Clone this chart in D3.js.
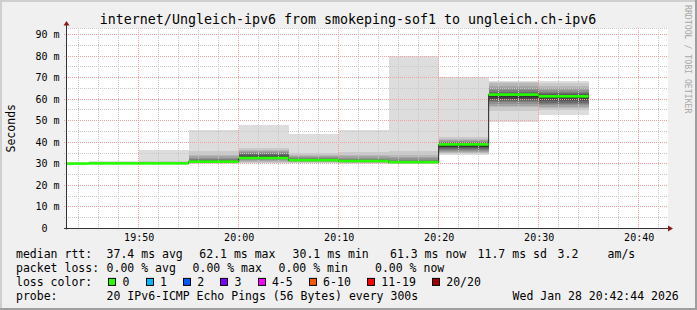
<!DOCTYPE html>
<html>
<head>
<meta charset="utf-8">
<script src="https://cdn.jsdelivr.net/npm/d3@7"></script>
<style>
    body { margin: 0; background: #f0f0f0; }
    svg { display: block; }
    text { font-family: "DejaVu Sans Mono", monospace; fill: #000; }
</style>
</head>
<body>
<div id="wrapper"></div>
<script>
// 5 minute steps, labelled by their end time
const stepEnds = ["19:45", "19:50", "19:55", "20:00", "20:05", "20:10", "20:15", "20:20", "20:25", "20:30", "20:35"]
const medianRtt = [30.1, 30.2, 30.2, 31.0, 32.7, 31.7, 31.3, 30.8, 39.0, 62.1, 61.3]
// 20 sorted pings per step (ms)
const pings = [
    [29.9, 29.95, 30.0, 30.0, 30.0, 30.05, 30.05, 30.1, 30.1, 30.1, 30.1, 30.15, 30.2, 30.2, 30.25, 30.3, 30.4, 30.5, 30.6, 30.8],
    [29.9, 30.0, 30.0, 30.05, 30.1, 30.1, 30.15, 30.15, 30.2, 30.2, 30.2, 30.25, 30.3, 30.3, 30.4, 30.5, 30.6, 30.8, 31.0, 31.3],
    [29.9, 30.0, 30.0, 30.1, 30.1, 30.1, 30.15, 30.15, 30.2, 30.2, 30.2, 30.25, 30.3, 30.3, 30.4, 30.5, 30.7, 31.0, 31.5, 36.4],
    [30.0, 30.2, 30.4, 30.5, 30.6, 30.7, 30.7, 30.8, 30.8, 30.9, 31.0, 31.2, 31.5, 31.8, 32.2, 32.8, 33.5, 34.2, 36.0, 45.7],
    [30.2, 30.6, 31.0, 31.4, 31.8, 32.1, 32.3, 32.5, 32.6, 32.7, 32.8, 33.6, 34.0, 34.5, 35.0, 35.5, 36.0, 36.6, 37.2, 48.0],
    [30.2, 30.5, 30.8, 31.0, 31.2, 31.3, 31.4, 31.5, 31.6, 31.7, 31.8, 31.9, 32.1, 32.4, 32.7, 33.0, 33.4, 33.9, 34.9, 43.8],
    [30.0, 30.3, 30.6, 30.8, 30.9, 31.0, 31.1, 31.2, 31.2, 31.3, 31.4, 31.5, 31.7, 32.0, 32.4, 32.9, 33.4, 34.2, 35.6, 45.7],
    [29.8, 30.1, 30.3, 30.4, 30.5, 30.6, 30.6, 30.7, 30.7, 30.8, 30.9, 31.0, 31.2, 31.5, 31.9, 32.5, 33.3, 34.2, 36.0, 79.8],
    [34.2, 34.8, 35.2, 35.6, 36.0, 36.4, 36.8, 37.2, 37.6, 38.0, 39.0, 39.3, 39.6, 39.9, 40.2, 40.6, 41.0, 41.5, 42.6, 70.2],
    [49.6, 54.7, 56.3, 57.0, 57.8, 58.5, 59.0, 59.5, 60.2, 60.8, 62.2, 62.6, 63.0, 63.5, 64.2, 65.1, 66.2, 67.4, 68.0, 68.4],
    [52.7, 55.0, 55.8, 56.5, 57.2, 57.8, 58.4, 59.0, 59.6, 60.4, 61.5, 62.0, 62.6, 63.0, 63.5, 64.3, 65.1, 66.2, 67.7, 68.5],
]
const yTicks = [0, 10, 20, 30, 40, 50, 60, 70, 80, 90]
const yTickLabels = ["0", "10 m", "20 m", "30 m", "40 m", "50 m", "60 m", "70 m", "80 m", "90 m"]
const xTicks = ["19:50", "20:00", "20:10", "20:20", "20:30", "20:40"]
const lossLabels = ["0", "1", "2", "3", "4-5", "6-10", "11-19", "20/20"]
const lossColors = ["#26ff00", "#00b8ff", "#0059ff", "#7e00ff", "#ff00ff", "#ff5500", "#ff0000", "#a10000"]

const title = "internet/Ungleich-ipv6 from smokeping-sof1 to ungleich.ch-ipv6"
const statRows = [
    ["median rtt:", "37.4 ms avg", "62.1 ms max", "30.1 ms min", "61.3 ms now", "11.7 ms sd", "3.2", "am/s"],
    ["packet loss:", "0.00 % avg", "0.00 % max", "0.00 % min", "0.00 % now"],
]
const probeText = "20 IPv6-ICMP Echo Pings (56 Bytes) every 300s"
const stampText = "Wed Jan 28 20:42:44 2026"

const day = "2026-01-28 "
const parseTime = d3.timeParse("%Y-%m-%d %H:%M:%S")
const t = s => parseTime(day + (s.length == 5 ? s + ":00" : s))

const width = 697, height = 310
const plot = { left: 66, right: 668, top: 28, bottom: 228.5 }

const xScaler = d3.scaleTime()
    .domain([t("19:42:44"), t("20:42:44")])
    .range([66, 666])
const yScaler = d3.scaleLinear()
    .domain([0, 93])
    .range([plot.bottom, plot.top])
const crisp = v => Math.floor(v) + 0.5

const svg = d3.select("#wrapper").append("svg")
    .attr("width", width)
    .attr("height", height)

// frame
svg.append("rect").attr("width", width).attr("height", height).attr("fill", "#f0f0f0")
svg.append("path").attr("d", `M1,${height} V1 H${width}`).attr("stroke", "#cfcfcf").attr("stroke-width", 2).attr("fill", "none")
svg.append("path").attr("d", `M0,${height - 1} H${width - 1} V0`).attr("stroke", "#9e9e9e").attr("stroke-width", 2).attr("fill", "none")

svg.append("rect")
    .attr("x", plot.left).attr("y", plot.top)
    .attr("width", plot.right - plot.left).attr("height", plot.bottom - plot.top)
    .attr("fill", "#fff")

svg.append("clipPath").attr("id", "clip")
    .append("rect")
    .attr("x", plot.left).attr("y", plot.top)
    .attr("width", plot.right - plot.left).attr("height", plot.bottom - plot.top)

const steps = stepEnds.map((e, i) => ({
    end: t(e),
    start: new Date(t(e).getTime() - 300000),
    median: medianRtt[i],
    pings: pings[i],
}))

// smoke
const smoke = svg.append("g").attr("clip-path", "url(#clip)").attr("shape-rendering", "crispEdges")
for (let ibot = 1; ibot <= 10; ibot++) {
    const shade = Math.floor(190 / 10 * (10 - ibot)) + 50
    smoke.append("g").selectAll("rect")
        .data(steps)
        .join("rect")
        .attr("x", d => xScaler(d.start))
        .attr("width", d => xScaler(d.end) - xScaler(d.start))
        .attr("y", d => yScaler(d.pings[20 - ibot]))
        .attr("height", d => yScaler(d.pings[ibot - 1]) - yScaler(d.pings[20 - ibot]))
        .attr("fill", d3.rgb(shade, shade, shade))
}

// grid
const grid = svg.append("g").attr("fill", "none").attr("stroke-width", 1).attr("stroke-dasharray", "1,1")
const minorX = d3.timeMinute.every(2).range(xScaler.domain()[0], xScaler.domain()[1])
grid.selectAll(".vmin").data(minorX.filter(d => d.getMinutes() % 10 != 0)).join("line")
    .attr("x1", d => crisp(xScaler(d))).attr("x2", d => crisp(xScaler(d)))
    .attr("y1", plot.top).attr("y2", plot.bottom + 2)
    .attr("stroke", "#c8c8c8")
const minorY = d3.range(5, 93, 10)
grid.selectAll(".hmin").data(minorY).join("line")
    .attr("x1", plot.left - 2).attr("x2", plot.right)
    .attr("y1", d => crisp(yScaler(d))).attr("y2", d => crisp(yScaler(d)))
    .attr("stroke", "#c8c8c8")
grid.append("line")
    .attr("x1", plot.left).attr("x2", plot.right)
    .attr("y1", plot.top + 0.5).attr("y2", plot.top + 0.5)
    .attr("stroke", "#c8c8c8")
grid.selectAll(".vmaj").data(xTicks).join("line")
    .attr("x1", d => crisp(xScaler(t(d)))).attr("x2", d => crisp(xScaler(t(d))))
    .attr("y1", plot.top).attr("y2", plot.bottom + 2)
    .attr("stroke", "#f2a0a0")
grid.selectAll(".hmaj").data(yTicks.slice(1)).join("line")
    .attr("x1", plot.left - 2).attr("x2", plot.right)
    .attr("y1", d => crisp(yScaler(d))).attr("y2", d => crisp(yScaler(d)))
    .attr("stroke", "#f2a0a0")

// median: dark step line, then loss-coloured band
const medLine = d3.line()
    .x(d => xScaler(d[0]))
    .y(d => crisp(yScaler(d[1])))
    .curve(d3.curveStepAfter)
const medPoints = steps.map(d => [d.start, d.median]).concat([[steps[steps.length - 1].end, steps[steps.length - 1].median]])
svg.append("path")
    .attr("clip-path", "url(#clip)")
    .attr("d", medLine(medPoints))
    .attr("fill", "none")
    .attr("stroke", "#202020")
    .attr("stroke-width", 1)

const swidth = yScaler.domain()[1] / 200
svg.append("g").attr("clip-path", "url(#clip)").selectAll("rect")
    .data(steps)
    .join("rect")
    .attr("x", d => xScaler(d.start))
    .attr("width", d => xScaler(d.end) - xScaler(d.start))
    .attr("y", d => yScaler(d.median + swidth * 1.3))
    .attr("height", d => yScaler(d.median - swidth * 1.3) - yScaler(d.median + swidth * 1.3))
    .attr("fill", lossColors[0])

// axes
const axisColor = "#333"
svg.append("line")
    .attr("x1", plot.left + 0.5).attr("x2", plot.left + 0.5)
    .attr("y1", plot.bottom + 1).attr("y2", 24)
    .attr("stroke", axisColor)
svg.append("line")
    .attr("x1", plot.left - 2).attr("x2", 670)
    .attr("y1", plot.bottom).attr("y2", plot.bottom)
    .attr("stroke", axisColor)
svg.append("path").attr("d", `M${plot.left - 2.5},25.5 L${plot.left + 0.5},21 L${plot.left + 3.5},25.5 Z`).attr("fill", "#8b1a1a")
svg.append("path").attr("d", `M668,${plot.bottom - 3} L673,${plot.bottom} L668,${plot.bottom + 3} Z`).attr("fill", "#8b1a1a")

// tick labels
const tickFont = "10px"
svg.append("g").selectAll("text")
    .data(yTicks)
    .join("text")
    .attr("x", (d, i) => yTickLabels[i] == "0" ? 47.6 : 59.6)
    .attr("y", d => yScaler(d) + 3.5)
    .attr("text-anchor", "end")
    .attr("font-size", tickFont)
    .text((d, i) => yTickLabels[i])
svg.append("g").selectAll("text")
    .data(xTicks)
    .join("text")
    .attr("x", d => xScaler(t(d)) + 0.5)
    .attr("y", 240.7)
    .attr("text-anchor", "middle")
    .attr("font-size", tickFont)
    .text(d => d)

// title and labels
svg.append("text")
    .attr("x", 348).attr("y", 23.5)
    .attr("text-anchor", "middle")
    .attr("font-size", "13.3px")
    .text(title)
svg.append("text")
    .attr("transform", `translate(15.3, ${(plot.top + plot.bottom) / 2}) rotate(-90)`)
    .attr("text-anchor", "middle")
    .attr("font-size", "11.5px")
    .text("Seconds")
svg.append("text")
    .attr("transform", "translate(684.5, 5) rotate(90)")
    .attr("font-size", "8.2px")
    .style("fill", "#a8a8a8")
    .text("RRDTOOL / TOBI OETIKER")

// legend
const legendFont = "11.5px"
const charW = 6.93
const rowY = [258.3, 272.1, 285.9, 299.7]
const statX = [
    [16, 106.6, 199.3, 292.6, 390, 477.6, 557.6, 607.6],
    [16, 106.6, 192.6, 278.6, 375],
]
statRows.forEach((row, r) => {
    svg.append("g").selectAll("text")
        .data(row)
        .join("text")
        .attr("x", (d, i) => statX[r][i])
        .attr("y", rowY[r])
        .attr("font-size", legendFont)
        .text(d => d)
})

svg.append("text").attr("x", 16).attr("y", rowY[2]).attr("font-size", legendFont).text("loss color:")
let bx = 108.3
const boxes = lossLabels.map(l => {
    const b = { x: bx, label: l }
    bx += 15 + l.length * charW + 15.4
    return b
})
const lossLegend = svg.append("g").selectAll("g")
    .data(boxes)
    .join("g")
lossLegend.append("rect")
    .attr("x", d => Math.round(d.x) + 0.5)
    .attr("y", rowY[2] - 7.5)
    .attr("width", 7)
    .attr("height", 7)
    .attr("fill", (d, i) => lossColors[i])
    .attr("stroke", "#000")
lossLegend.append("text")
    .attr("x", d => d.x + 14.3)
    .attr("y", rowY[2])
    .attr("font-size", legendFont)
    .text(d => d.label)

svg.append("text").attr("x", 16).attr("y", rowY[3]).attr("font-size", legendFont).text("probe:")
svg.append("text").attr("x", 106.6).attr("y", rowY[3]).attr("font-size", legendFont).text(probeText)
svg.append("text").attr("x", 512.6).attr("y", rowY[3]).attr("font-size", legendFont).text(stampText)
</script>
</body>
</html>
